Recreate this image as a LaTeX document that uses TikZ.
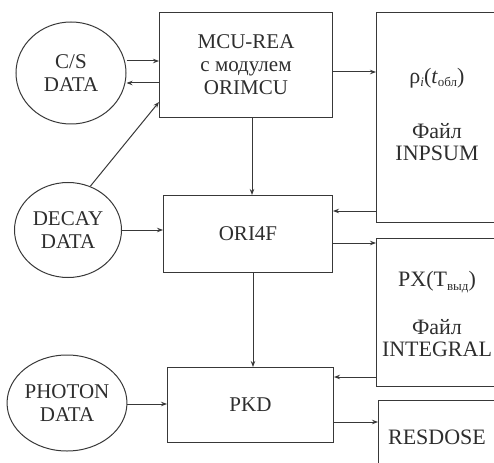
\documentclass[tikz,border=0pt]{standalone}
\usepackage{fontspec}
\setmainfont{Liberation Serif}
\usetikzlibrary{shapes.geometric,arrows.meta}
\newcommand\mysub[1]{\raisebox{-0.35ex}{\fontsize{13}{13}\selectfont #1}}
\begin{document}
\begin{tikzpicture}[x=1pt,y=-1pt,
  ink/.style={draw=black!78, line width=1pt},
  box/.style={ink, rectangle, inner sep=0, anchor=north west, align=center,
    font=\fontsize{21}{23}\selectfont, text=black!82},
  data/.style={ink, ellipse, inner sep=0, align=center,
    font=\fontsize{21}{23}\selectfont, text=black!82},
  lbl/.style={inner sep=0, align=center, font=\fontsize{22}{22}\selectfont, text=black!82},
  arr/.style={ink, -{Stealth[length=6pt,width=4.5pt]}}]
\useasboundingbox (0,0) rectangle (494,462);
\clip (0,0) rectangle (494,462);
% left data sources
\node[data, minimum width=110pt, minimum height=102pt] (cs) at (71,73) {C/S\\DATA};
\node[data, minimum width=107pt, minimum height=95pt] (decay) at (68,230) {DECAY\\DATA};
\node[data, minimum width=108pt, minimum height=96pt] (photon) at (67,403) {PHOTON\\DATA};
% programs
\node[box, minimum width=173pt, minimum height=105pt] (mcu) at (159,12) {MCU-REA\\с модулем\\ORIMCU};
\node[box, minimum width=169pt, minimum height=77pt] (ori) at (163,195) {ORI4F};
\node[box, minimum width=166pt, minimum height=75pt] (pkd) at (167,367) {PKD};
% files (right edge outside picture)
\node[box, minimum width=200pt, minimum height=210pt] (inpsum) at (376,12) {};
\node[box, minimum width=200pt, minimum height=148pt] (integral) at (376,238) {};
\node[box, minimum width=200pt, minimum height=100pt] (resdose) at (378,400) {};
\node[lbl] (t1) at (437,78) {ρ\mysub{\textit{i}}(\textit{t}\mysub{обл})};
\node[lbl] (t2) at (437,142) {Файл\\INPSUM};
\node[lbl] (t3) at (437,282) {PX(T\mysub{выд})};
\node[lbl] (t4) at (437,338) {Файл\\INTEGRAL};
\node[lbl] (t5) at (437,437) {RESDOSE};
% connectors
\draw[arr] (cs.east |- 0,61) -- (mcu.west |- 0,61);
\draw[arr] (mcu.west |- 0,83) -- (cs.east |- 0,83);
\draw[arr] (decay.63) -- (mcu.west |- 0,102);
\draw[arr] (mcu.east |- 0,72) -- (inpsum.west |- 0,72);
\draw[arr] (mcu.south -| 252,0) -- (ori.north -| 252,0);
\draw[arr] (inpsum.west |- 0,211) -- (ori.east |- 0,211);
\draw[arr] (decay.east |- 0,230) -- (ori.west |- 0,230);
\draw[arr] (ori.east |- 0,243) -- (integral.west |- 0,243);
\draw[arr] (ori.south -| 253,0) -- (pkd.north -| 253,0);
\draw[arr] (integral.west |- 0,377) -- (pkd.east |- 0,377);
\draw[arr] (pkd.east |- 0,422) -- (resdose.west |- 0,422);
\draw[arr] (photon.east |- 0,404) -- (pkd.west |- 0,404);
\end{tikzpicture}
\end{document}
